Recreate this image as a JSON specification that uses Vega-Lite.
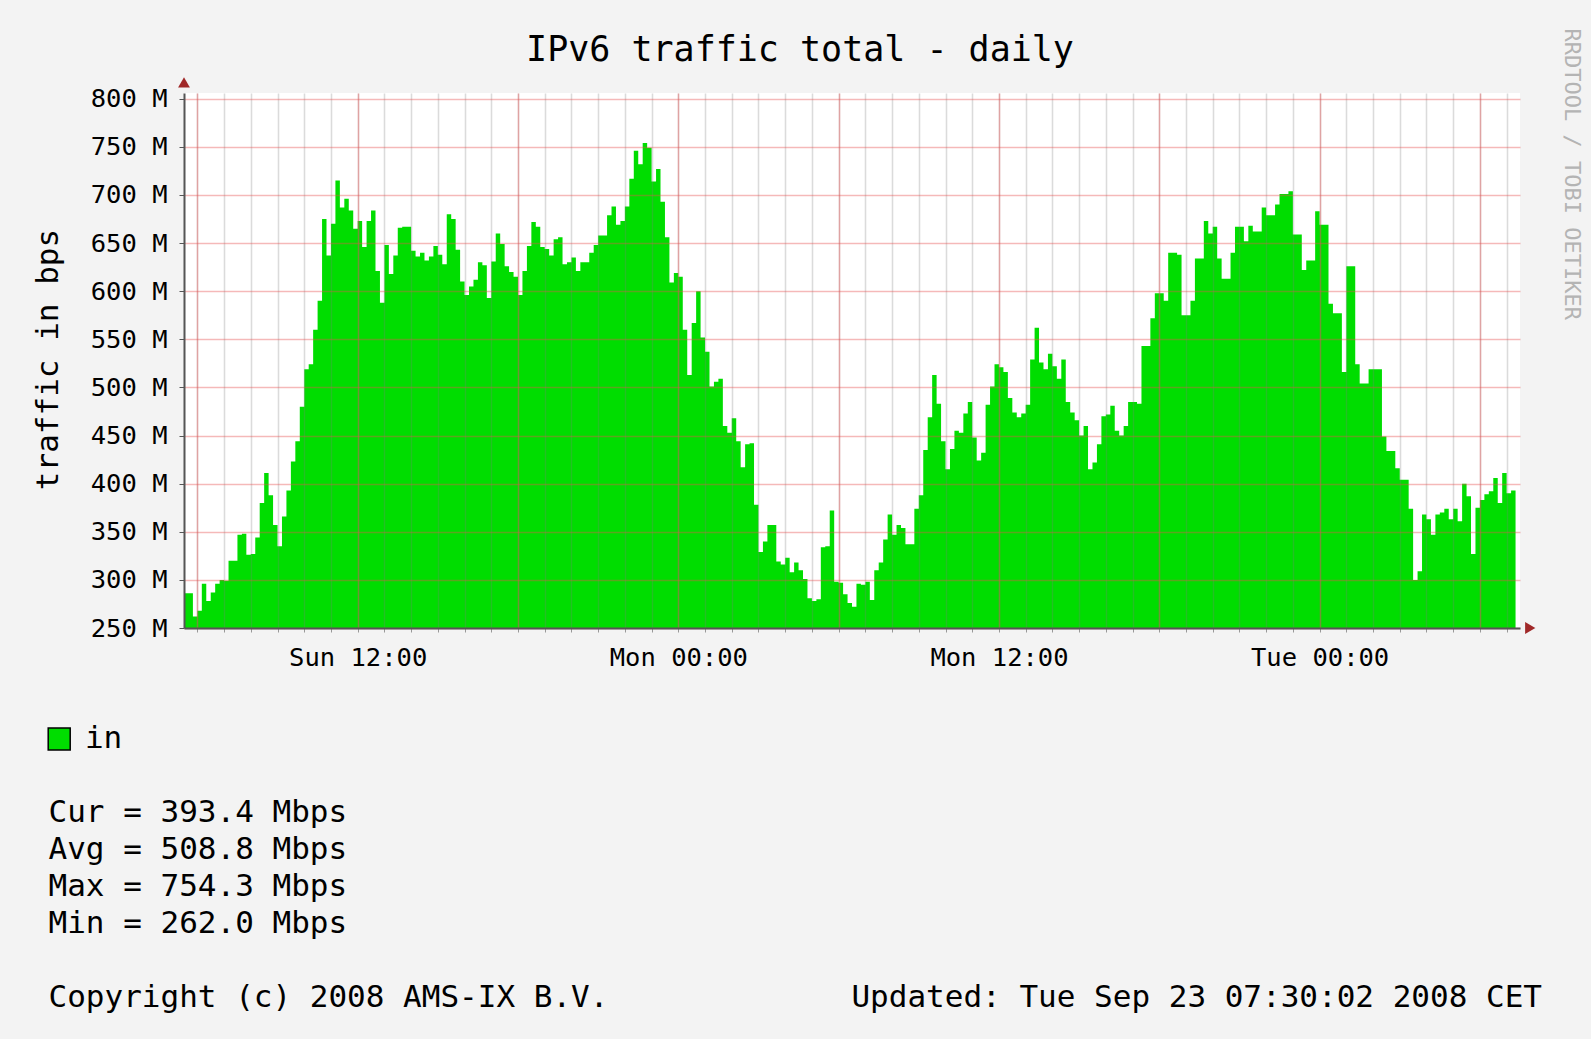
{
  "$schema": "https://vega.github.io/schema/vega-lite/v6.json",
  "background": "#F3F3F3",
  "padding": {"left": 31, "top": 28, "right": 12, "bottom": 26},
  "title": {"text": "IPv6 traffic total - daily", "font": "DejaVu Sans Mono", "fontSize": 35, "fontWeight": "normal", "color": "#000000", "anchor": "middle", "frame": "bounds", "dx": -7, "offset": -40},
  "config": {"font": "DejaVu Sans Mono", "view": {"stroke": null}},
  "datasets": {
    "traffic": [
      {"m":330,"v":286},{"m":340,"v":286},{"m":350,"v":262},
      {"m":360,"v":268},{"m":370,"v":296},{"m":380,"v":278},{"m":390,"v":287},{"m":400,"v":296},{"m":410,"v":300},
      {"m":420,"v":299},{"m":430,"v":320},{"m":440,"v":320},{"m":450,"v":347},{"m":460,"v":348},{"m":470,"v":326},
      {"m":480,"v":327},{"m":490,"v":344},{"m":500,"v":380},{"m":510,"v":411},{"m":520,"v":388},{"m":530,"v":357},
      {"m":540,"v":335},{"m":550,"v":366},{"m":560,"v":393},{"m":570,"v":423},{"m":580,"v":444},{"m":590,"v":480},
      {"m":600,"v":519},{"m":610,"v":524},{"m":620,"v":560},{"m":630,"v":590},{"m":640,"v":675},{"m":650,"v":637},
      {"m":660,"v":670},{"m":670,"v":715},{"m":680,"v":687},{"m":690,"v":696},{"m":700,"v":684},{"m":710,"v":665},
      {"m":720,"v":673},{"m":730,"v":646},{"m":740,"v":673},{"m":750,"v":684},{"m":760,"v":621},{"m":770,"v":588},
      {"m":780,"v":648},{"m":790,"v":618},{"m":800,"v":637},{"m":810,"v":666},{"m":820,"v":667},{"m":830,"v":667},
      {"m":840,"v":642},{"m":850,"v":636},{"m":860,"v":640},{"m":870,"v":632},{"m":880,"v":636},{"m":890,"v":647},
      {"m":900,"v":638},{"m":910,"v":628},{"m":920,"v":680},{"m":930,"v":675},{"m":940,"v":643},{"m":950,"v":610},
      {"m":960,"v":596},{"m":970,"v":605},{"m":980,"v":612},{"m":990,"v":630},{"m":1000,"v":627},{"m":1010,"v":593},
      {"m":1020,"v":631},{"m":1030,"v":660},{"m":1040,"v":649},{"m":1050,"v":626},{"m":1060,"v":620},{"m":1070,"v":615},
      {"m":1080,"v":596},{"m":1090,"v":621},{"m":1100,"v":647},{"m":1110,"v":672},{"m":1120,"v":667},{"m":1130,"v":646},
      {"m":1140,"v":644},{"m":1150,"v":637},{"m":1160,"v":654},{"m":1170,"v":656},{"m":1180,"v":628},{"m":1190,"v":630},
      {"m":1200,"v":635},{"m":1210,"v":621},{"m":1220,"v":630},{"m":1230,"v":630},{"m":1240,"v":640},{"m":1250,"v":648},
      {"m":1260,"v":658},{"m":1270,"v":658},{"m":1280,"v":679},{"m":1290,"v":688},{"m":1300,"v":669},{"m":1310,"v":673},
      {"m":1320,"v":688},{"m":1330,"v":717},{"m":1340,"v":746},{"m":1350,"v":732},{"m":1360,"v":754},{"m":1370,"v":749},
      {"m":1380,"v":714},{"m":1390,"v":727},{"m":1400,"v":693},{"m":1410,"v":656},{"m":1420,"v":609},{"m":1430,"v":619},
      {"m":1440,"v":615},{"m":1450,"v":560},{"m":1460,"v":513},{"m":1470,"v":567},{"m":1480,"v":600},{"m":1490,"v":552},
      {"m":1500,"v":537},{"m":1510,"v":501},{"m":1520,"v":506},{"m":1530,"v":509},{"m":1540,"v":460},{"m":1550,"v":453},
      {"m":1560,"v":468},{"m":1570,"v":444},{"m":1580,"v":417},{"m":1590,"v":441},{"m":1600,"v":442},{"m":1610,"v":378},
      {"m":1620,"v":329},{"m":1630,"v":340},{"m":1640,"v":357},{"m":1650,"v":357},{"m":1660,"v":319},{"m":1670,"v":316},
      {"m":1680,"v":323},{"m":1690,"v":308},{"m":1700,"v":318},{"m":1710,"v":310},{"m":1720,"v":301},{"m":1730,"v":281},
      {"m":1740,"v":278},{"m":1750,"v":280},{"m":1760,"v":334},{"m":1770,"v":335},{"m":1780,"v":372},{"m":1790,"v":298},
      {"m":1800,"v":297},{"m":1810,"v":285},{"m":1820,"v":276},{"m":1830,"v":272},{"m":1840,"v":296},{"m":1850,"v":295},
      {"m":1860,"v":298},{"m":1870,"v":279},{"m":1880,"v":310},{"m":1890,"v":318},{"m":1900,"v":342},{"m":1910,"v":368},
      {"m":1920,"v":347},{"m":1930,"v":357},{"m":1940,"v":354},{"m":1950,"v":337},{"m":1960,"v":337},{"m":1970,"v":374},
      {"m":1980,"v":388},{"m":1990,"v":435},{"m":2000,"v":469},{"m":2010,"v":513},{"m":2020,"v":483},{"m":2030,"v":444},
      {"m":2040,"v":415},{"m":2050,"v":436},{"m":2060,"v":455},{"m":2070,"v":453},{"m":2080,"v":473},{"m":2090,"v":485},
      {"m":2100,"v":448},{"m":2110,"v":424},{"m":2120,"v":432},{"m":2130,"v":482},{"m":2140,"v":501},{"m":2150,"v":524},
      {"m":2160,"v":521},{"m":2170,"v":516},{"m":2180,"v":489},{"m":2190,"v":474},{"m":2200,"v":469},{"m":2210,"v":473},
      {"m":2220,"v":482},{"m":2230,"v":529},{"m":2240,"v":562},{"m":2250,"v":526},{"m":2260,"v":519},{"m":2270,"v":535},
      {"m":2280,"v":522},{"m":2290,"v":509},{"m":2300,"v":529},{"m":2310,"v":485},{"m":2320,"v":474},{"m":2330,"v":466},
      {"m":2340,"v":450},{"m":2350,"v":460},{"m":2360,"v":415},{"m":2370,"v":422},{"m":2380,"v":441},{"m":2390,"v":470},
      {"m":2400,"v":472},{"m":2410,"v":481},{"m":2420,"v":455},{"m":2430,"v":450},{"m":2440,"v":460},{"m":2450,"v":485},
      {"m":2460,"v":485},{"m":2470,"v":483},{"m":2480,"v":543},{"m":2490,"v":543},{"m":2500,"v":572},{"m":2510,"v":598},
      {"m":2520,"v":598},{"m":2530,"v":590},{"m":2540,"v":640},{"m":2550,"v":640},{"m":2560,"v":638},{"m":2570,"v":575},
      {"m":2580,"v":575},{"m":2590,"v":590},{"m":2600,"v":634},{"m":2610,"v":634},{"m":2620,"v":673},{"m":2630,"v":660},
      {"m":2640,"v":667},{"m":2650,"v":634},{"m":2660,"v":613},{"m":2670,"v":613},{"m":2680,"v":640},{"m":2690,"v":667},
      {"m":2700,"v":667},{"m":2710,"v":652},{"m":2720,"v":668},{"m":2730,"v":662},{"m":2740,"v":662},{"m":2750,"v":687},
      {"m":2760,"v":679},{"m":2770,"v":679},{"m":2780,"v":690},{"m":2790,"v":701},{"m":2800,"v":701},{"m":2810,"v":704},
      {"m":2820,"v":659},{"m":2830,"v":659},{"m":2840,"v":622},{"m":2850,"v":632},{"m":2860,"v":632},{"m":2870,"v":683},
      {"m":2880,"v":669},{"m":2890,"v":669},{"m":2900,"v":587},{"m":2910,"v":577},{"m":2920,"v":577},{"m":2930,"v":516},
      {"m":2940,"v":626},{"m":2950,"v":626},{"m":2960,"v":524},{"m":2970,"v":504},{"m":2980,"v":504},{"m":2990,"v":519},
      {"m":3000,"v":519},{"m":3010,"v":519},{"m":3020,"v":449},{"m":3030,"v":434},{"m":3040,"v":434},{"m":3050,"v":416},
      {"m":3060,"v":404},{"m":3070,"v":404},{"m":3080,"v":374},{"m":3090,"v":300},{"m":3100,"v":309},{"m":3110,"v":368},
      {"m":3120,"v":363},{"m":3130,"v":347},{"m":3140,"v":368},{"m":3150,"v":370},{"m":3160,"v":374},{"m":3170,"v":363},
      {"m":3180,"v":374},{"m":3190,"v":361},{"m":3200,"v":400},{"m":3210,"v":387},{"m":3220,"v":327},{"m":3230,"v":375},
      {"m":3240,"v":383},{"m":3250,"v":389},{"m":3260,"v":392},{"m":3270,"v":406},{"m":3280,"v":380},{"m":3290,"v":411},
      {"m":3300,"v":390},{"m":3310,"v":393},{"m":3320,"v":393}
    ],
    "legend": [
      {"kind": "legend", "line": "in", "label": "in"},
      {"kind": "stat", "line": "Cur", "label": "Cur = 393.4 Mbps"},
      {"kind": "stat", "line": "Avg", "label": "Avg = 508.8 Mbps"},
      {"kind": "stat", "line": "Max", "label": "Max = 754.3 Mbps"},
      {"kind": "stat", "line": "Min", "label": "Min = 262.0 Mbps"},
      {"kind": "copyright", "line": "foot", "label": "Copyright (c) 2008 AMS-IX B.V."},
      {"kind": "updated", "line": "foot", "label": "Updated: Tue Sep 23 07:30:02 2008 CET"}
    ]
  },
  "bounds": "flush",
  "spacing": 111,
  "vconcat": [
    {
      "width": 1336,
      "height": 535,
      "view": {"fill": "#FFFFFF", "stroke": null},
      "layer": [
        {
          "data": {"name": "traffic"},
          "mark": {"type": "area", "interpolate": "step-after", "color": "#00DD00", "opacity": 1, "clip": true},
          "encoding": {
            "x": {
              "field": "m", "type": "quantitative", "title": "minutes since Sun 2008-09-21 00:00",
              "scale": {"domain": [330, 3330], "zero": false, "nice": false},
              "axis": {
                "orient": "bottom", "title": null, "zindex": 1,
                "values": [360,420,480,540,600,660,720,780,840,900,960,1020,1080,1140,1200,1260,1320,1380,1440,1500,1560,1620,1680,1740,1800,1860,1920,1980,2040,2100,2160,2220,2280,2340,2400,2460,2520,2580,2640,2700,2760,2820,2880,2940,3000,3060,3120,3180,3240,3300],
                "labelExpr": "(datum.value % 720 == 0) ? (['Sun','Mon','Tue'][floor(datum.value / 1440)] + ' ' + (datum.value % 1440 == 0 ? '00:00' : '12:00')) : ''",
                "labelOverlap": false, "labelFlush": false, "labelBound": false,
                "labelFontSize": 25.5, "labelColor": "#000000", "labelPadding": 13,
                "grid": true, "gridColor": "#7F7F7F", "gridOpacity": 0.28, "gridWidth": 1.5,
                "ticks": true, "tickSize": 4, "tickColor": "#999999",
                "domain": true, "domainColor": "#555555", "domainWidth": 2
              }
            },
            "y": {
              "field": "v", "type": "quantitative",
              "scale": {"domain": [250, 806], "zero": false, "nice": false},
              "axis": {
                "orient": "left", "zindex": 1,
                "values": [250, 300, 350, 400, 450, 500, 550, 600, 650, 700, 750, 800],
                "labelExpr": "datum.value + ' M'",
                "labelFontSize": 25.5, "labelColor": "#000000", "labelPadding": 12,
                "grid": true, "gridColor": "#E65050", "gridOpacity": 0.4, "gridWidth": 1.5,
                "ticks": true, "tickSize": 5, "tickColor": "#555555",
                "domain": true, "domainColor": "#555555", "domainWidth": 2,
                "title": "traffic in bps", "titleFontSize": 31, "titleFontWeight": "normal", "titleColor": "#000000",
                "titleAngle": -90, "titleAlign": "center", "titleBaseline": "middle", "titleX": -136, "titleY": 266
              }
            }
          }
        },
        {
          "data": {"values": [{}]},
          "mark": {"type": "point", "shape": "triangle-up", "filled": true, "color": "#A02828", "size": 140, "opacity": 1},
          "encoding": {
            "x": {
              "datum": 330, "type": "quantitative",
              "axis": {
                "orient": "top", "title": null, "zindex": 1,
                "values": [360, 720, 1080, 1440, 1800, 2160, 2520, 2880, 3240],
                "labels": false, "ticks": false, "domain": false,
                "grid": true, "gridColor": "#E65050", "gridOpacity": 0.4, "gridWidth": 1.5
              }
            },
            "y": {
              "datum": 817, "type": "quantitative",
              "axis": {
                "orient": "right", "labels": false, "ticks": false, "domain": false, "grid": false,
                "title": "RRDTOOL / TOBI OETIKER", "titleFontSize": 22, "titleFontWeight": "normal", "titleColor": "#B4B4B4",
                "titleAngle": 90, "titleAlign": "left", "titleBaseline": "middle", "titleX": 51, "titleY": -65
              }
            }
          }
        },
        {
          "data": {"values": [{}]},
          "mark": {"type": "point", "shape": "triangle-right", "filled": true, "color": "#A02828", "size": 140, "opacity": 1},
          "encoding": {
            "x": {"datum": 3353, "type": "quantitative", "axis": null},
            "y": {"datum": 250, "type": "quantitative", "axis": null}
          }
        }
      ],
      "resolve": {"axis": {"x": "independent", "y": "independent"}}
    },
    {
      "width": 1358,
      "height": 259,
      "data": {"name": "legend"},
      "encoding": {
        "y": {"field": "line", "type": "nominal", "scale": {"type": "point", "domain": ["in", "gap1", "Cur", "Avg", "Max", "Min", "gap2", "foot"], "padding": 0}, "axis": null}
      },
      "layer": [
        {
          "transform": [{"filter": "datum.kind === 'legend'"}],
          "mark": {"type": "point", "shape": "square", "filled": true, "fill": "#00DD00", "stroke": "#000000", "strokeWidth": 1.5, "size": 484, "opacity": 1, "xOffset": -124.8},
          "encoding": {"x": {"datum": 0, "type": "quantitative", "scale": {"domain": [0, 1]}, "axis": null}}
        },
        {
          "transform": [{"filter": "datum.kind === 'legend'"}],
          "mark": {"type": "text", "align": "left", "baseline": "middle", "fontSize": 31, "dx": -99.1, "color": "#000000"},
          "encoding": {"x": {"datum": 0, "type": "quantitative", "axis": null}, "text": {"field": "label"}}
        },
        {
          "transform": [{"filter": "datum.kind === 'stat' || datum.kind === 'copyright'"}],
          "mark": {"type": "text", "align": "left", "baseline": "middle", "fontSize": 31, "dx": -135.5, "color": "#000000"},
          "encoding": {"x": {"datum": 0, "type": "quantitative", "axis": null}, "text": {"field": "label"}}
        },
        {
          "transform": [{"filter": "datum.kind === 'updated'"}],
          "mark": {"type": "text", "align": "right", "baseline": "middle", "fontSize": 31, "color": "#000000"},
          "encoding": {"x": {"datum": 1, "type": "quantitative", "axis": null}, "text": {"field": "label"}}
        }
      ]
    }
  ]
}
